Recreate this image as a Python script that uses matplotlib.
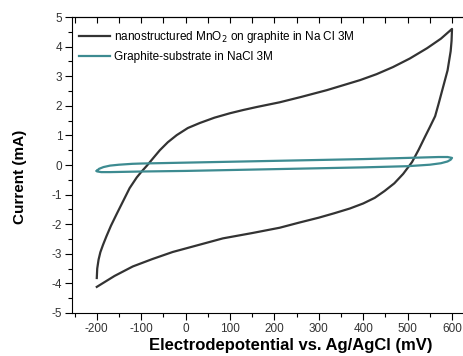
import numpy as np
import matplotlib
matplotlib.use("Agg")
import matplotlib.pyplot as plt
from matplotlib.ticker import MultipleLocator

plt.rcParams['font.family'] = ['Liberation Sans', 'DejaVu Sans']
plt.rcParams['axes.unicode_minus'] = False

# MnO2 on graphite: anodic sweep (-200 -> 600) then cathodic sweep (600 -> -200)
mno2_up_x = [-200, -199, -196, -192, -186, -178, -168, -155, -140, -126, -110, -99, -87, -72, -58,
             -40, -20, 5, 32, 65, 100, 130, 160, 212, 260, 318, 360, 393, 430, 467, 505, 544, 575, 600]
mno2_up_y = [-3.82, -3.5, -3.2, -2.95, -2.7, -2.4, -2.05, -1.65, -1.2, -0.78, -0.42, -0.22, -0.02, 0.25, 0.5,
             0.77, 1.01, 1.25, 1.42, 1.6, 1.75, 1.86, 1.96, 2.12, 2.3, 2.53, 2.72, 2.87, 3.07, 3.31, 3.6, 3.95, 4.27, 4.6]
mno2_down_x = [600, 599, 597, 590, 580, 570, 562, 550, 539, 525, 510, 490, 470, 448, 426, 400, 370,
               335, 300, 255, 212, 150, 84, 30, -29, -75, -119, -160, -200]
mno2_down_y = [4.6, 4.2, 3.85, 3.2, 2.64, 2.08, 1.65, 1.28, 0.95, 0.52, 0.1, -0.3, -0.62, -0.88, -1.11, -1.3, -1.47,
               -1.63, -1.78, -1.95, -2.12, -2.3, -2.48, -2.7, -2.94, -3.18, -3.43, -3.75, -4.12]

# graphite substrate
gr_up_x = [-200, -195, -185, -170, -150, -120, -100, 0, 100, 200, 300, 400, 500, 570, 590, 600]
gr_up_y = [-0.2, -0.13, -0.07, -0.02, 0.01, 0.04, 0.05, 0.08, 0.11, 0.14, 0.17, 0.2, 0.24, 0.27, 0.27, 0.24]
gr_down_x = [600, 597, 590, 575, 550, 500, 400, 300, 200, 100, 0, -100, -170, -190, -198, -200]
gr_down_y = [0.24, 0.18, 0.12, 0.06, 0.01, -0.04, -0.08, -0.11, -0.14, -0.17, -0.2, -0.22, -0.24, -0.24, -0.22, -0.2]

fig = plt.figure(figsize=(4.64, 3.56), dpi=100)
ax = fig.add_axes([0.155, 0.121, 0.845, 0.831])

ax.plot(mno2_up_x + mno2_down_x, mno2_up_y + mno2_down_y, color='#333333', lw=1.6,
        label='nanostructured MnO$_2$ on graphite in Na Cl 3M')
ax.plot(gr_up_x + gr_down_x, gr_up_y + gr_down_y, color='#3d8b91', lw=1.6,
        label='Graphite-substrate in NaCl 3M')

ax.set_xlim(-256, 627)
ax.set_ylim(-5, 5)
ax.xaxis.set_major_locator(MultipleLocator(100))
ax.xaxis.set_minor_locator(MultipleLocator(50))
ax.yaxis.set_major_locator(MultipleLocator(1))
ax.yaxis.set_minor_locator(MultipleLocator(0.5))
ax.spines['right'].set_visible(False)
ax.tick_params(axis='both', which='major', direction='out', length=5, width=0.8, labelsize=8.5,
               pad=2, labelcolor='#333333')
ax.tick_params(axis='both', which='minor', direction='out', length=3, width=0.8)

# top ticks point into the axes
top = ax.secondary_xaxis('top')
top.xaxis.set_major_locator(MultipleLocator(50))
top.tick_params(direction='in', length=4, width=0.8, labeltop=False)

ax.set_xlabel('Electrodepotential vs. Ag/AgCl (mV)', fontsize=12, fontweight='bold')
ax.xaxis.set_label_coords(0.559, -0.085)
ax.set_ylabel('Current (mA)', fontsize=11, fontweight='bold')
ax.yaxis.set_label_coords(-0.115, 0.46)

ax.legend(loc='upper left', bbox_to_anchor=(-0.005, 0.99), frameon=False, fontsize=8.5,
          handlelength=2.6, handletextpad=0.3, borderaxespad=0.4, labelspacing=0.5)

fig.savefig('out.png', dpi=100)
